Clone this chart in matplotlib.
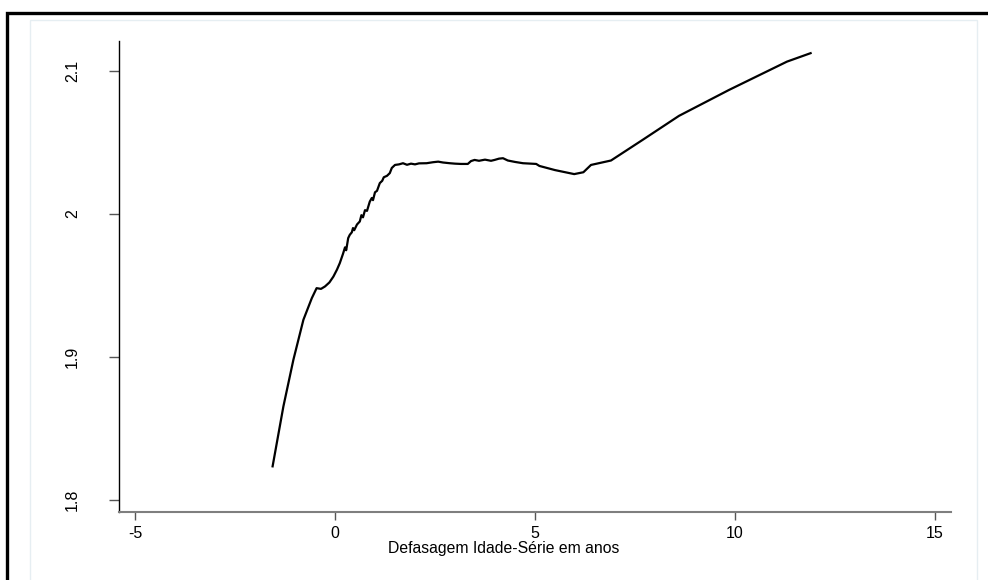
import matplotlib
matplotlib.use("Agg")
import matplotlib.pyplot as plt
from matplotlib.patches import Rectangle

plt.rcParams['font.family'] = ['Liberation Sans', 'DejaVu Sans']

x_lag = [-1.56, -1.29, -1.04, -0.79, -0.58, -0.46, -0.35, -0.25, -0.14, -0.04,
         0.05, 0.12, 0.20, 0.25, 0.28, 0.33, 0.37, 0.42, 0.45, 0.48,
         0.55, 0.62, 0.66, 0.70, 0.75, 0.80, 0.87, 0.92, 0.95, 1.00,
         1.05, 1.12, 1.18, 1.22, 1.30, 1.37, 1.42, 1.50, 1.60, 1.70,
         1.80, 1.90, 2.00, 2.10, 2.29, 2.45, 2.58, 2.70, 2.87, 3.00,
         3.15, 3.32, 3.40, 3.49, 3.60, 3.75, 3.90, 3.99, 4.10, 4.20,
         4.32, 4.50, 4.70, 4.90, 5.03, 5.11, 5.50, 5.98, 6.21, 6.40,
         6.90, 7.69, 8.60, 9.85, 11.30, 11.89]
y_val = [1.8235, 1.8654, 1.8980, 1.9259, 1.9410, 1.9480, 1.9475, 1.9492, 1.9520, 1.9561,
         1.9610, 1.9655, 1.9720, 1.9765, 1.9745, 1.9830, 1.9853, 1.9870, 1.9900, 1.9885,
         1.9925, 1.9946, 1.9990, 1.9975, 2.0025, 2.0020, 2.0085, 2.0110, 2.0095, 2.0150,
         2.0160, 2.0214, 2.0230, 2.0255, 2.0265, 2.0284, 2.0320, 2.0341, 2.0345, 2.0353,
         2.0342, 2.0350, 2.0345, 2.0352, 2.0353, 2.0360, 2.0364, 2.0358, 2.0353, 2.0350,
         2.0348, 2.0348, 2.0368, 2.0376, 2.0370, 2.0378, 2.0370, 2.0376, 2.0385, 2.0388,
         2.0372, 2.0362, 2.0353, 2.0350, 2.0348, 2.0334, 2.0305, 2.0277, 2.0290, 2.0341,
         2.0372, 2.0516, 2.0684, 2.0865, 2.1063, 2.1122]

x_ticks = [-5, 0, 5, 10, 15]
x_tick_labels = ["-5", "0", "5", "10", "15"]
y_ticks = [1.8, 1.9, 2.0, 2.1]
y_tick_labels = ["1.8", "1.9", "2", "2.1"]
x_label = "Defasagem Idade-Série em anos"

W, H = 988, 580
fig = plt.figure(figsize=(W / 100, H / 100), dpi=100)
fig.patch.set_facecolor("white")

# outer black frame (clipped at right and bottom)
fig.patches.append(Rectangle((7 / W, -0.1), 1.2, 1 - 13 / H + 0.1,
                             transform=fig.transFigure, fill=False,
                             edgecolor="black", linewidth=2.4, zorder=0))
# inner light box
fig.patches.append(Rectangle((30 / W, -0.1), (977 - 30) / W, 1 - 20 / H + 0.1,
                             transform=fig.transFigure, fill=False,
                             edgecolor="#e6eef2", linewidth=1.0, zorder=0))

ax = fig.add_axes([119 / W, 1 - 512 / H, (951 - 119) / W, (512 - 41) / H])
ax.set_facecolor("none")
ax.plot(x_lag, y_val, color="black", linewidth=1.6, solid_joinstyle="round")

ax.set_xlim(-5.4, 15.4)
ax.set_ylim(1.7916, 2.1207)

for s in ["top", "right"]:
    ax.spines[s].set_visible(False)
ax.spines["left"].set_color("black")
ax.spines["left"].set_linewidth(1.0)
ax.spines["bottom"].set_color("#7f7f7f")
ax.spines["bottom"].set_linewidth(1.5)

ax.set_xticks(x_ticks)
ax.set_xticklabels(x_tick_labels, fontsize=11.5)
ax.set_yticks(y_ticks)
ax.set_yticklabels(y_tick_labels, fontsize=11.5, rotation=90, va="center")
ax.tick_params(axis="x", length=6, width=1, color="#555555", pad=4)
ax.tick_params(axis="y", length=7, width=1, color="#555555", pad=21)

fig.text(504 / W, 1 - 549 / H, x_label, ha="center", va="center", fontsize=11.3)

fig.savefig("out.png", dpi=100, facecolor="white")
